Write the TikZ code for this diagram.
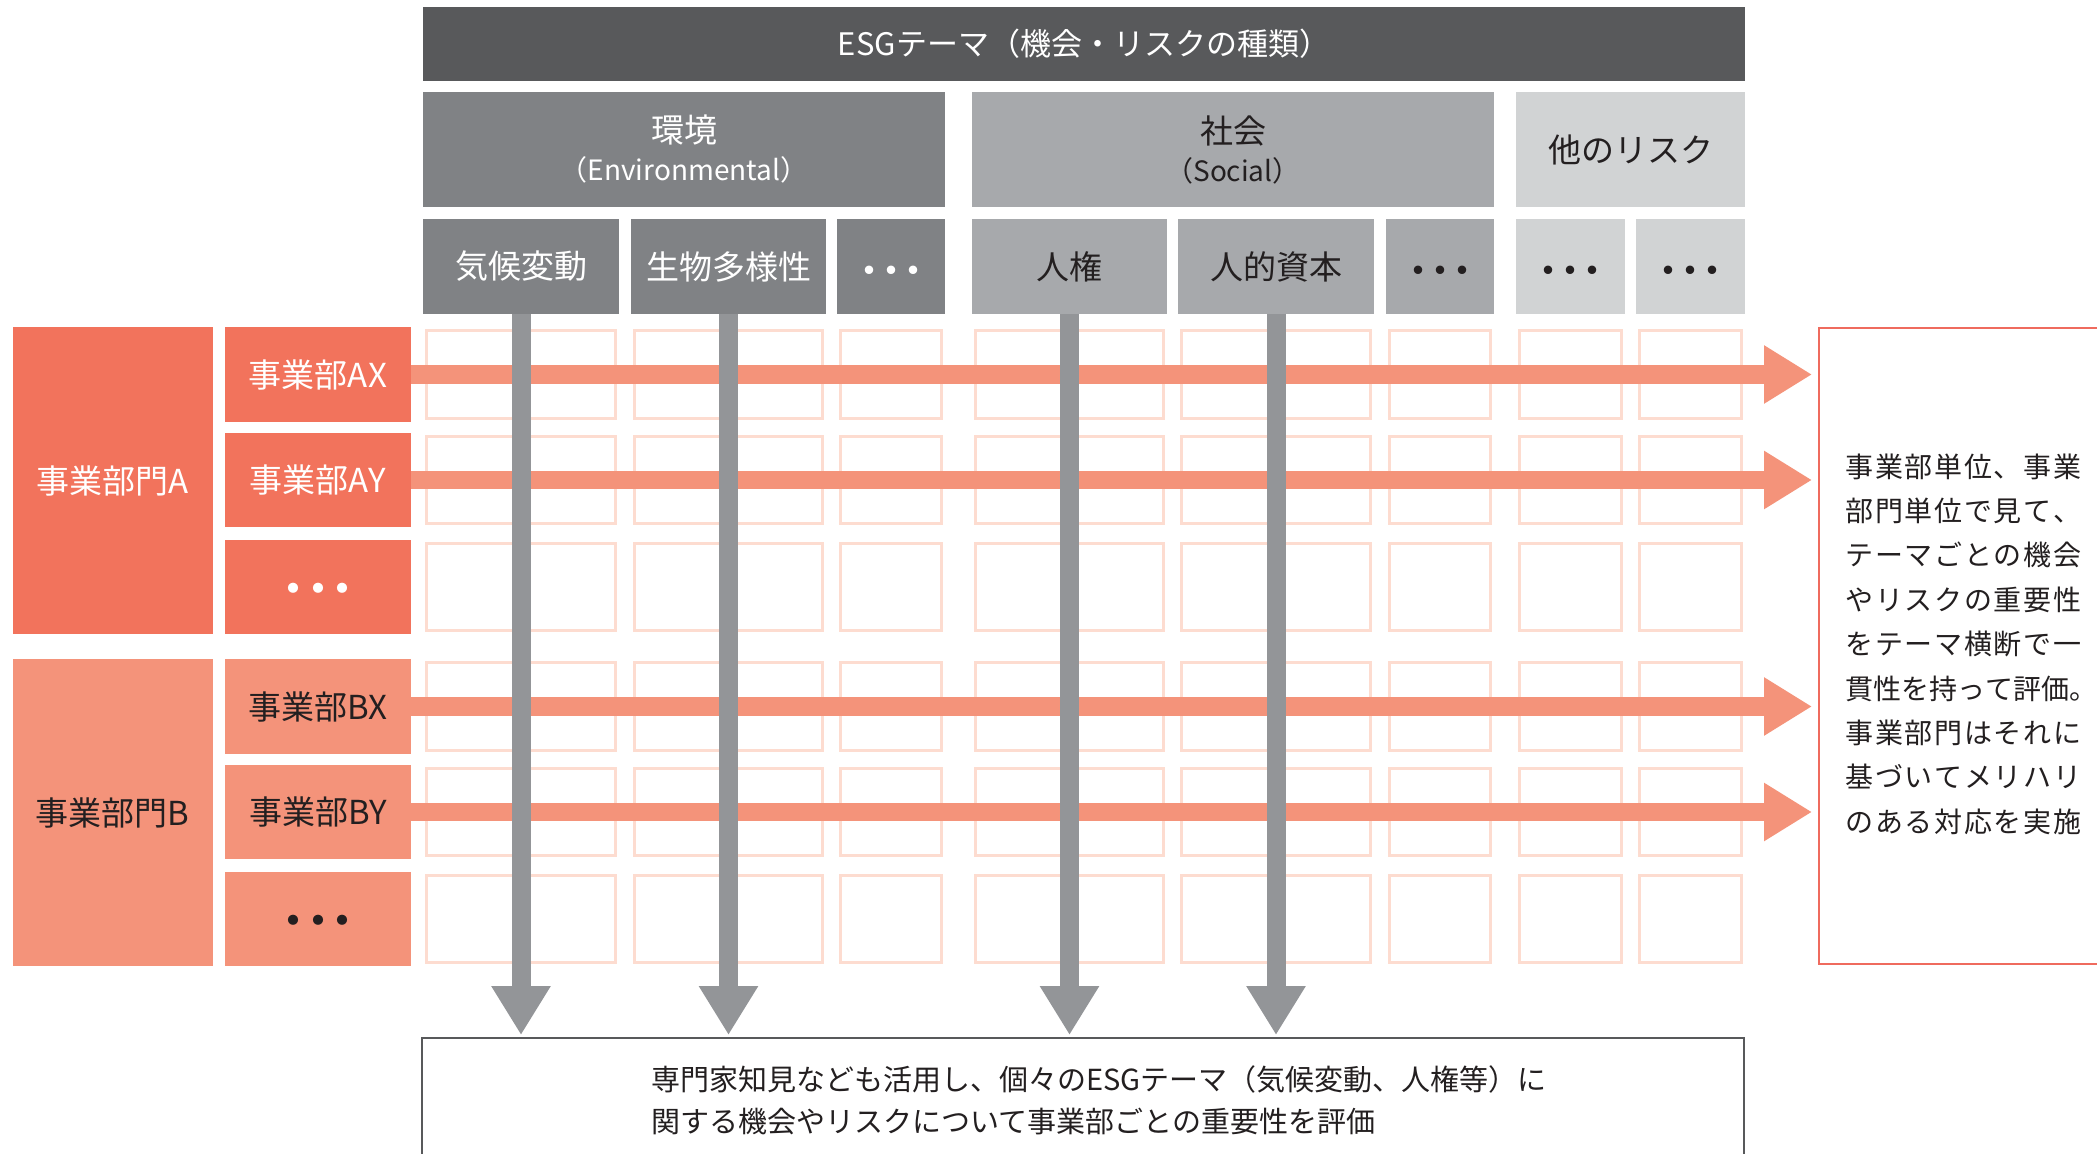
\documentclass[tikz,border=0pt]{standalone}
\usepackage{fontspec}
\setmainfont{Noto Sans CJK JP}
\usetikzlibrary{arrows.meta}
\definecolor{topbar}{HTML}{58595B}
\definecolor{envc}{HTML}{808285}
\definecolor{socc}{HTML}{A7A9AC}
\definecolor{othc}{HTML}{D1D3D4}
\definecolor{garrow}{HTML}{939598}
\definecolor{divA}{HTML}{F2735C}
\definecolor{divB}{HTML}{F4937A}
\definecolor{cellc}{HTML}{FDDCD0}
\definecolor{rboxc}{HTML}{EF6B5E}
\definecolor{txtd}{HTML}{231F20}
\newcommand\jsA[1]{#1\jsB}
\newcommand\jsB[1]{\ifx\relax#1\else\hfil#1\expandafter\jsB\fi}
\newcommand\jline[1]{\hbox to 118pt{\jsA#1\relax}}
\newcommand\bx[7]{\node[boxbase,#6, minimum width={(#4-#2)*0.5pt}, minimum height={(#5-#3)*0.5pt}] (#1) at ({(#2+#4)/2},{(#3+#5)/2}) {#7};}
\newcommand\sdots{\raisebox{-4.5pt}[\height][\depth]{\fontsize{20pt}{20pt}\selectfont ・\kern-9pt・\kern-9pt・}}
\newcommand\rdots{\raisebox{-4pt}[\height][\depth]{\fontsize{24pt}{24pt}\selectfont ・\kern-11.75pt・\kern-11.75pt・}}
\begin{document}
\begin{tikzpicture}[x=0.5pt,y=-0.5pt,
  boxbase/.style={inner sep=0pt, outer sep=0pt, align=center, font=\fontsize{16.5pt}{19pt}\selectfont},
  cell/.style={draw=cellc, line width=1.75pt},
  harrow/.style={draw=divB, line width=9.25pt, -{Triangle[length=24pt,width=27.5pt]}, shorten >=3.5pt},
  varrow/.style={draw=garrow, line width=9.5pt, -{Triangle[length=24.5pt,width=28pt]}, shorten >=1.5pt}]
\useasboundingbox (0,0) rectangle (2097,1154);
\clip (0,0) rectangle (2097,1154);
\fill[white] (0,0) rectangle (2097,1154);
% header
\bx{esg}{423}{7}{1745}{81}{fill=topbar,text=white,font=\fontsize{15.5pt}{19pt}\selectfont}{ESGテーマ（機会・リスクの種類）}
\bx{env}{423}{92}{945}{207}{fill=envc,text=white}{環境\\{\fontsize{14pt}{19pt}\selectfont （Environmental）}}
\bx{soc}{972}{92}{1494}{207}{fill=socc,text=txtd}{社会\\{\fontsize{14pt}{19pt}\selectfont （Social）}}
\bx{oth}{1516}{92}{1745}{207}{fill=othc,text=txtd}{他のリスク}
\bx{s1}{423}{219}{619}{314}{fill=envc,text=white}{気候変動}
\bx{s2}{631}{219}{826}{314}{fill=envc,text=white}{生物多様性}
\bx{s3}{837}{219}{945}{314}{fill=envc,text=white}{\sdots}
\bx{s4}{972}{219}{1167}{314}{fill=socc,text=txtd}{人権}
\bx{s5}{1178}{219}{1374}{314}{fill=socc,text=txtd}{人的資本}
\bx{s6}{1386}{219}{1494}{314}{fill=socc,text=txtd}{\sdots}
\bx{s7}{1516}{219}{1625}{314}{fill=othc,text=txtd}{\sdots}
\bx{s8}{1636}{219}{1745}{314}{fill=othc,text=txtd}{\sdots}
% rows
\bx{divisionA}{12.5}{327}{213}{634}{fill=divA,text=white}{事業部門A}
\bx{ax}{225}{327}{411}{422}{fill=divA,text=white}{事業部AX}
\bx{ay}{225}{433}{411}{527}{fill=divA,text=white}{事業部AY}
\bx{adots}{225}{540}{411}{634}{fill=divA,text=white}{\rdots}
\bx{divisionB}{12.5}{659}{213}{966}{fill=divB,text=txtd}{事業部門B}
\bx{bx}{225}{659}{411}{754}{fill=divB,text=txtd}{事業部BX}
\bx{by}{225}{765}{411}{859}{fill=divB,text=txtd}{事業部BY}
\bx{bdots}{225}{872}{411}{966}{fill=divB,text=txtd}{\rdots}
% cells
\foreach \xa/\xb in {423/619,631/826,837/945,972/1167,1178/1374,1386/1494,1516/1625,1636/1745}
  \foreach \ya/\yb in {327/422,433/527,540/634,659/754,765/859,872/966}
    \draw[cell] (\xa+3.5,\ya+3.5) rectangle (\xb-3.5,\yb-3.5);
% right box and bottom box
\bx{rbox}{1819}{328}{2115}{964}{draw=rboxc,line width=1pt}{}
\node[anchor=west, align=left, text=txtd, inner sep=0pt, font=\fontsize{14pt}{22.2pt}\selectfont] (rtext) at (1845,644)
 {\jline{事業部単位、事業}\\\jline{部門単位で見て、}\\\jline{テーマごとの機会}\\\jline{やリスクの重要性}\\\jline{をテーマ横断で一}\\\jline{貫性を持って評価{\makebox[0.45em][l]{。}}}\\\jline{事業部門はそれに}\\\jline{基づいてメリハリ}\\\jline{のある対応を実施}};
\bx{bbox}{422}{1038}{1744}{1180}{draw=topbar,line width=1pt}{}
\node[anchor=west, align=left, text=txtd, inner sep=0pt, font=\fontsize{14.5pt}{21pt}\selectfont] (btext) at (651,1100)
 {専門家知見なども活用し、個々のESGテーマ（気候変動、人権等）に\\関する機会やリスクについて事業部ごとの重要性を評価};
% arrows
\foreach \r in {ax,ay,bx,by}
  \draw[harrow] (\r.east) -- (\r.east -| rbox.west);
\foreach \s in {s1,s2,s4,s5}
  \draw[varrow] (\s.south) -- (\s.south |- bbox.north);
\end{tikzpicture}
\end{document}
